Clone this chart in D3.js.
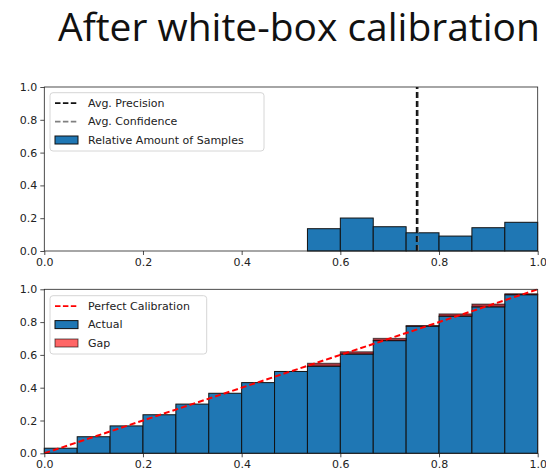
<!DOCTYPE html>
<html>
<head>
<meta charset="utf-8">
<script src="https://cdn.jsdelivr.net/npm/d3@7"></script>
<style>
  body { margin: 0; background: #fff; }
  svg { display: block; }
  .tick text { font-family: "DejaVu Sans", sans-serif; font-size: 11px; fill: #222; }
  .legend text { font-family: "DejaVu Sans", sans-serif; font-size: 11px; fill: #222; }
</style>
</head>
<body>
<svg id="chart" width="546" height="475"></svg>
<script>
  // 15 equal-width bins over [0, 1]
  const nBins = 15;
  const binEdges = d3.range(nBins + 1).map(i => i / nBins);

  // top panel: relative amount of samples per bin
  const sampleShare = [0, 0, 0, 0, 0, 0, 0, 0, 0.136, 0.201, 0.148, 0.111, 0.091, 0.142, 0.175];
  const avgPrecision = 0.755;
  const avgConfidence = 0.757;

  // bottom panel: accuracy per bin and mean confidence per bin
  const accuracy   = [0.031, 0.101, 0.167, 0.235, 0.300, 0.366, 0.431, 0.499, 0.531, 0.605, 0.687, 0.775, 0.836, 0.893, 0.967];
  const confidence = [0.031, 0.101, 0.167, 0.235, 0.300, 0.366, 0.431, 0.499, 0.549, 0.619, 0.701, 0.779, 0.850, 0.910, 0.973];

  const xTicks = [0, 0.2, 0.4, 0.6, 0.8, 1.0];
  const yTicks = [0, 0.2, 0.4, 0.6, 0.8, 1.0];

  const blue = '#1f77b4';
  const svg = d3.select('#chart');

  // title, fitted horizontally to the width it takes in the original
  const title = svg.append('text')
    .style('font-family', '"Open Sans", sans-serif')
    .style('font-size', '38px')
    .style('fill', '#111')
    .text('After white-box calibration');
  const natural = title.node().getComputedTextLength();
  title.attr('transform', `translate(58,41) scale(${482 / natural},1)`);

  const x = d3.scaleLinear().domain([0, 1]).range([44.3, 537.7]);

  function axes(g, y) {
    g.append('g').attr('transform', `translate(0,${y(0)})`)
      .call(d3.axisBottom(x).tickValues(xTicks).tickFormat(d3.format('.1f')).tickSize(4).tickPadding(3))
      .call(a => a.select('.domain').remove());
    g.append('g').attr('transform', `translate(${x(0)},0)`)
      .call(d3.axisLeft(y).tickValues(yTicks).tickFormat(d3.format('.1f')).tickSize(4).tickPadding(3))
      .call(a => a.select('.domain').remove());
    g.selectAll('.tick line').attr('stroke', '#222').attr('stroke-width', 0.8);
    g.append('rect')
      .attr('x', x(0)).attr('y', y(1))
      .attr('width', x(1) - x(0)).attr('height', y(0) - y(1))
      .attr('fill', 'none').attr('stroke', '#222').attr('stroke-width', 0.8);
  }

  function legend(g, left, top, width, height, rows) {
    const lg = g.append('g').attr('class', 'legend');
    lg.append('rect')
      .attr('x', left).attr('y', top).attr('width', width).attr('height', height)
      .attr('rx', 3).attr('fill', 'rgba(255,255,255,0.8)')
      .attr('stroke', '#d6d6d6').attr('stroke-width', 1);
    rows.forEach((r, i) => {
      const cy = top + 10.5 + i * 18.4;
      if (r.type === 'line') {
        lg.append('line')
          .attr('x1', left + 5).attr('x2', left + 28).attr('y1', cy).attr('y2', cy)
          .attr('stroke', r.color).attr('stroke-width', 1.8).attr('stroke-dasharray', '5.5,2.4');
      } else {
        lg.append('rect')
          .attr('x', left + 5).attr('y', cy - 4).attr('width', 23).attr('height', 8)
          .attr('fill', r.color).attr('fill-opacity', r.alpha || 1)
          .attr('stroke', r.edge).attr('stroke-opacity', r.alpha || 1).attr('stroke-width', 1);
      }
      lg.append('text').attr('x', left + 38).attr('y', cy).attr('dy', '0.35em').text(r.label);
    });
  }

  // ---- top panel
  {
    const y = d3.scaleLinear().domain([0, 1]).range([251, 87]);
    const g = svg.append('g');
    g.selectAll('rect.bar')
      .data(sampleShare.map((v, i) => ({v, i})).filter(d => d.v > 0))
      .join('rect').attr('class', 'bar')
      .attr('x', d => x(binEdges[d.i])).attr('width', d => x(binEdges[d.i + 1]) - x(binEdges[d.i]))
      .attr('y', d => y(d.v)).attr('height', d => y(0) - y(d.v))
      .attr('fill', blue).attr('stroke', '#111').attr('stroke-width', 1);
    g.append('line')
      .attr('x1', x(avgConfidence)).attr('x2', x(avgConfidence)).attr('y1', y(0)).attr('y2', y(1))
      .attr('stroke', '#808080').attr('stroke-width', 2).attr('stroke-dasharray', '6,3');
    g.append('line')
      .attr('x1', x(avgPrecision)).attr('x2', x(avgPrecision)).attr('y1', y(0)).attr('y2', y(1))
      .attr('stroke', '#111').attr('stroke-width', 2).attr('stroke-dasharray', '6,3');
    axes(g, y);
    legend(g, 50, 92.7, 214, 58.3, [
      {type: 'line', color: '#111', label: 'Avg. Precision'},
      {type: 'line', color: '#808080', label: 'Avg. Confidence'},
      {type: 'patch', color: blue, edge: '#111', label: 'Relative Amount of Samples'}
    ]);
  }

  // ---- bottom panel
  {
    const y = d3.scaleLinear().domain([0, 1]).range([453.3, 289.3]);
    const g = svg.append('g');
    const bins = accuracy.map((a, i) => ({a, c: confidence[i], i}));
    g.selectAll('rect.bar')
      .data(bins)
      .join('rect').attr('class', 'bar')
      .attr('x', d => x(binEdges[d.i])).attr('width', d => x(binEdges[d.i + 1]) - x(binEdges[d.i]))
      .attr('y', d => y(d.a)).attr('height', d => y(0) - y(d.a))
      .attr('fill', blue).attr('stroke', '#111').attr('stroke-width', 1);
    g.selectAll('rect.gap')
      .data(bins.filter(d => d.c - d.a > 0.001))
      .join('rect').attr('class', 'gap')
      .attr('x', d => x(binEdges[d.i])).attr('width', d => x(binEdges[d.i + 1]) - x(binEdges[d.i]))
      .attr('y', d => y(d.c)).attr('height', d => y(d.a) - y(d.c))
      .attr('fill', 'rgba(150,20,30,0.85)').attr('stroke', 'rgba(0,0,0,0.6)').attr('stroke-width', 1);
    g.append('line')
      .attr('x1', x(0)).attr('y1', y(0)).attr('x2', x(1)).attr('y2', y(1))
      .attr('stroke', '#ff0000').attr('stroke-width', 2).attr('stroke-dasharray', '6,3');
    axes(g, y);
    legend(g, 50, 295.7, 156.7, 58.3, [
      {type: 'line', color: '#ff0000', label: 'Perfect Calibration'},
      {type: 'patch', color: blue, edge: '#111', label: 'Actual'},
      {type: 'patch', color: '#ff0000', edge: '#000', alpha: 0.6, label: 'Gap'}
    ]);
  }
</script>
</body>
</html>
